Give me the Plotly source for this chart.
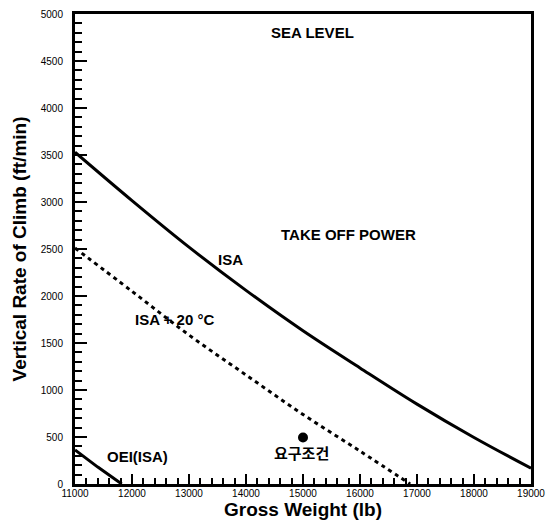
import plotly.graph_objects as go

# Data
weight_isa = [11000, 12000, 13000, 14000, 15000, 16000, 17000, 18000, 19000]
roc_isa = [3530, 3015, 2520, 2060, 1630, 1235, 850, 495, 168]

weight_isa20 = [11000, 12000, 13000, 14000, 15000, 16000, 16880]
roc_isa20 = [2510, 2050, 1585, 1160, 740, 350, 0]

weight_oei = [11000, 11400, 11820]
roc_oei = [362, 180, 0]

req_weight = [15000]
req_roc = [495]

labels = ["SEA LEVEL", "TAKE OFF POWER", "ISA", "ISA + 20 °C", "OEI(ISA)", "요구조건"]
label_x = [15175, 15790, 13720, 12754, 12088, 14965]
label_y = [4800, 2653, 2389, 1755, 296, 328]

fig = go.Figure()
fig.add_trace(go.Scatter(x=weight_isa, y=roc_isa, mode="lines",
                         line=dict(color="black", width=3, shape="spline"), name="ISA"))
fig.add_trace(go.Scatter(x=weight_isa20, y=roc_isa20, mode="lines",
                         line=dict(color="black", width=3, dash="4px,4px", shape="spline"),
                         name="ISA + 20 °C"))
fig.add_trace(go.Scatter(x=weight_oei, y=roc_oei, mode="lines",
                         line=dict(color="black", width=3), name="OEI(ISA)"))
fig.add_trace(go.Scatter(x=req_weight, y=req_roc, mode="markers",
                         marker=dict(color="black", size=10), name="요구조건"))

for t, x, y in zip(labels, label_x, label_y):
    fig.add_annotation(x=x, y=y, text="<b>" + t + "</b>", showarrow=False,
                       font=dict(family="Liberation Sans, Arial, Noto Sans CJK KR",
                                 size=15, color="black"),
                       xanchor="center", yanchor="middle")

axis_common = dict(
    showline=True, linecolor="black", linewidth=3, mirror=True,
    showgrid=False, zeroline=False, automargin=False,
    ticks="inside", tickcolor="black", tickwidth=2, tickformat="d",
    ticklabeloverflow="allow",
    tickfont=dict(family="Liberation Sans, Arial", size=10, color="black"),
)

fig.update_xaxes(range=[11000, 19000], dtick=1000, ticklen=10, ticklabelstandoff=-2,
                 minor=dict(dtick=200, ticks="inside", ticklen=6, tickwidth=1.5, tickcolor="black"),
                 title=dict(text="<b>Gross Weight (lb)</b>",
                            font=dict(family="Liberation Sans, Arial", size=19, color="black"),
                            standoff=2),
                 **axis_common)
fig.update_yaxes(range=[0, 5000], dtick=500, ticklen=12, ticklabelstandoff=7,
                 minor=dict(dtick=100, ticks="inside", ticklen=7, tickwidth=1.5, tickcolor="black"),
                 title=dict(text="<b>Vertical Rate of Climb (ft/min)</b>",
                            font=dict(family="Liberation Sans, Arial", size=19, color="black"),
                            standoff=10),
                 **axis_common)

fig.update_layout(
    width=557, height=528,
    margin=dict(l=67, r=34, t=6, b=52),
    plot_bgcolor="white", paper_bgcolor="white",
    showlegend=False,
)

fig.write_html("out.html")
